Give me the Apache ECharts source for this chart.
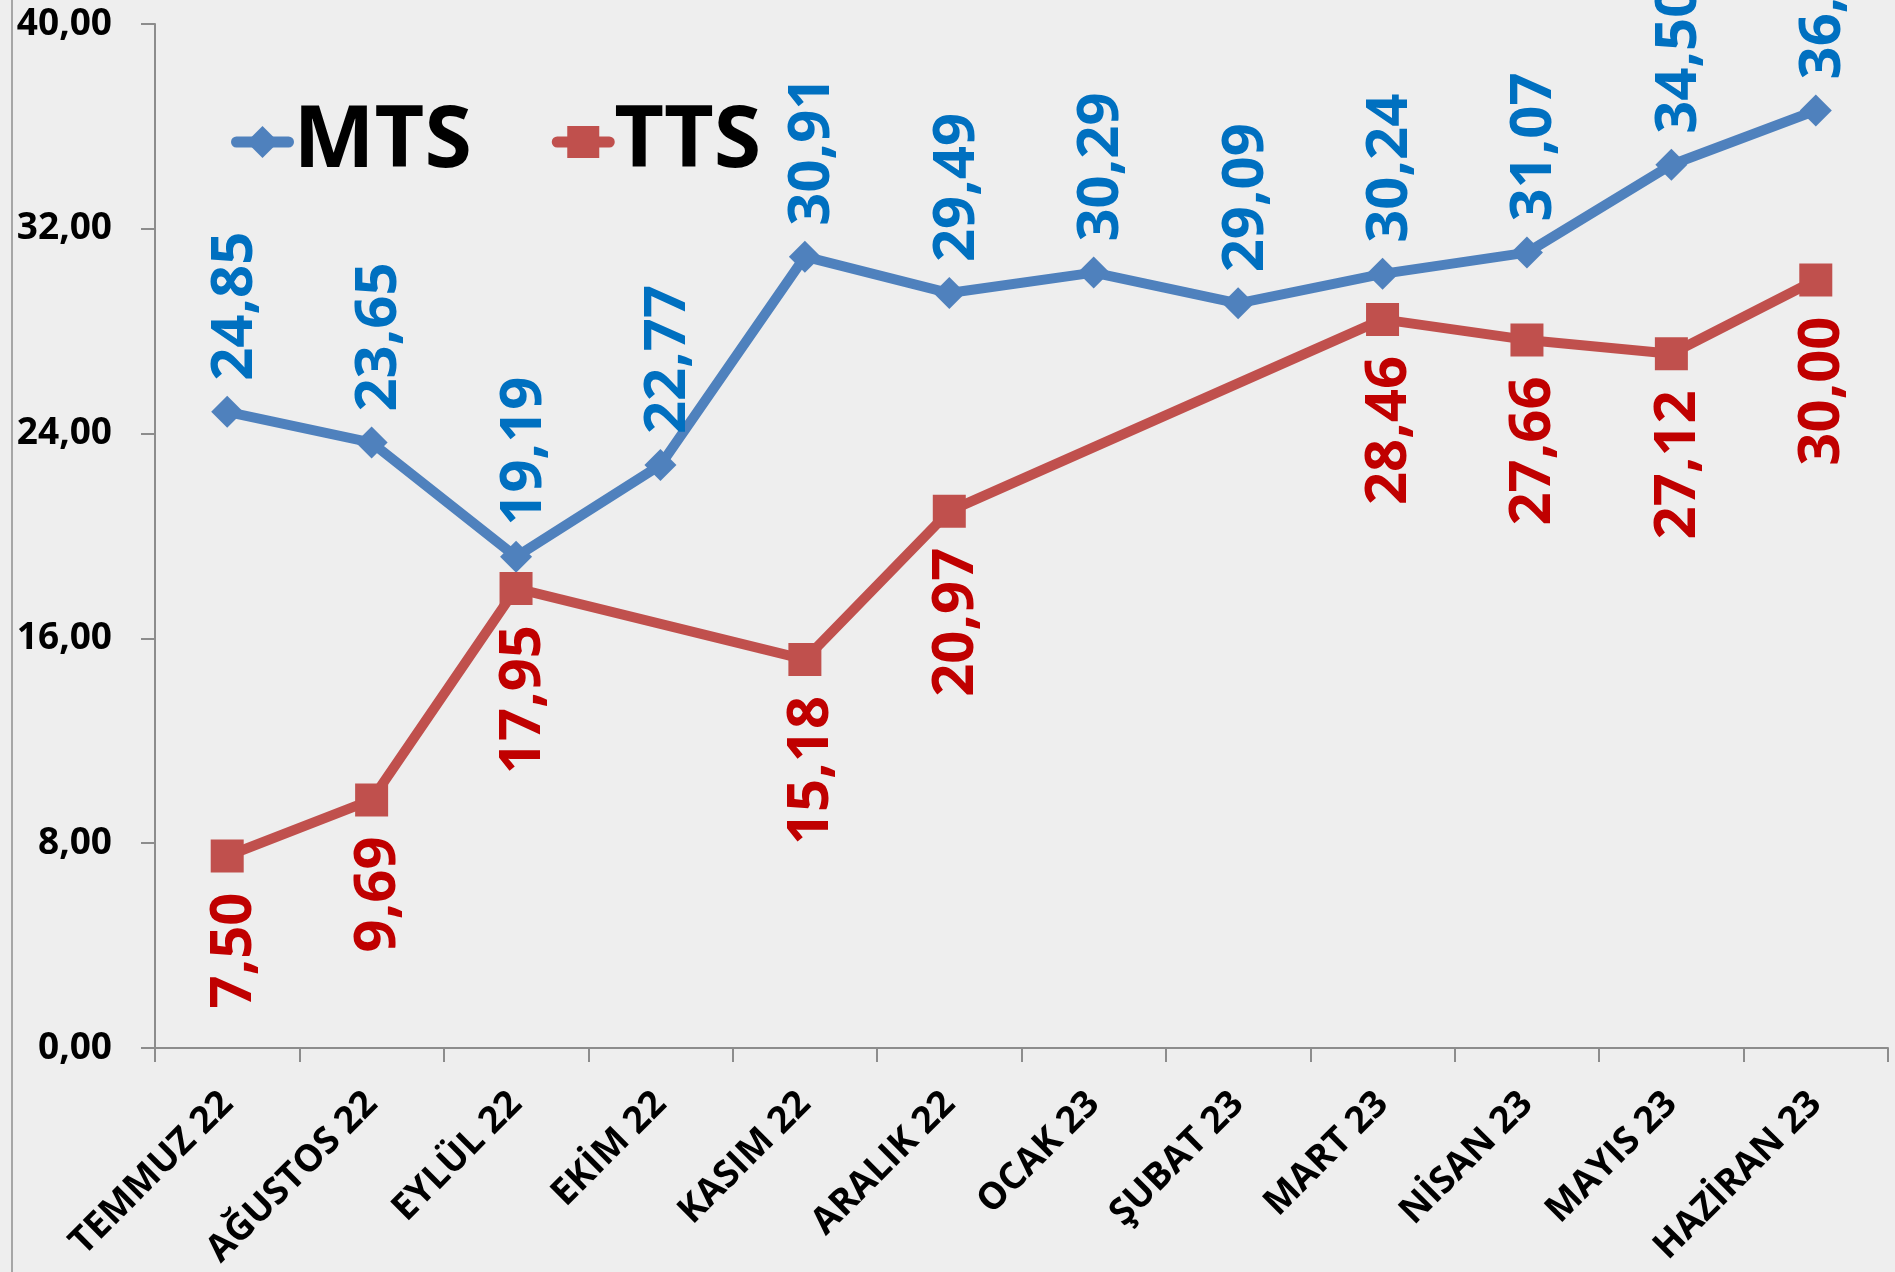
<!DOCTYPE html>
<html>
<head>
<meta charset="utf-8">
<script src="https://cdn.jsdelivr.net/npm/echarts@6/dist/echarts.min.js"></script>
<style>
  html, body { margin: 0; padding: 0; }
  #main { width: 1895px; height: 1272px; }
</style>
</head>
<body>
<div id="main"></div>
<script>
// months on the x axis
var months = ['TEMMUZ 22', 'AĞUSTOS 22', 'EYLÜL 22', 'EKİM 22', 'KASIM 22', 'ARALIK 22',
  'OCAK 23', 'ŞUBAT 23', 'MART 23', 'NİSAN 23', 'MAYIS 23', 'HAZİRAN 23'];
var mtsValues = [24.85, 23.65, 19.19, 22.77, 30.91, 29.49, 30.29, 29.09, 30.24, 31.07, 34.50, 36.62];
// no TTS figure for Ekim, Ocak, Subat
var ttsValues = [7.50, 9.69, 17.95, null, 15.18, 20.97, null, null, 28.46, 27.66, 27.12, 30.00];
var yTicks = [0, 8, 16, 24, 32, 40];

var font = 'Open Sans';
function comma(v) { return Number(v).toFixed(2).replace('.', ','); }

var chart = echarts.init(document.getElementById('main'));
chart.setOption({
  backgroundColor: '#eeeeee',
  animation: false,
  grid: { left: 155, right: 7, top: 24, bottom: 224 },
  legend: {
    left: 226, top: 94,
    itemWidth: 52, itemHeight: 40, itemGap: 80,
    selectedMode: false,
    lineStyle: { width: 11, cap: 'round' },
    textStyle: { fontFamily: font, fontWeight: 'bold', fontSize: 86, color: '#000' },
    data: ['MTS', 'TTS']
  },
  xAxis: {
    type: 'category',
    data: months,
    axisLine: { lineStyle: { color: '#8c8c8c', width: 2 } },
    axisTick: { show: true, length: 14, lineStyle: { color: '#8c8c8c', width: 2 } },
    axisLabel: {
      rotate: 45, margin: 50, interval: 0,
      fontFamily: font, fontWeight: 'bold', fontSize: 37, color: '#000'
    }
  },
  yAxis: {
    type: 'value',
    min: yTicks[0], max: yTicks[yTicks.length - 1], interval: yTicks[1] - yTicks[0],
    splitLine: { show: false },
    axisLine: { show: true, lineStyle: { color: '#8c8c8c', width: 2 } },
    axisTick: { show: true, length: 14, lineStyle: { color: '#8c8c8c', width: 2 } },
    axisLabel: {
      margin: 43, formatter: comma,
      fontFamily: font, fontWeight: 'bold', fontSize: 37, color: '#000'
    }
  },
  graphic: [{
    type: 'line', silent: true,
    shape: { x1: 12, y1: 0, x2: 12, y2: 1272 },
    style: { stroke: '#a6a6a6', lineWidth: 2 }
  }],
  series: [{
    name: 'MTS',
    type: 'line',
    data: mtsValues,
    symbol: 'diamond', symbolSize: 32,
    lineStyle: { color: '#4f81bd', width: 10 },
    itemStyle: { color: '#4f81bd' },
    label: {
      show: true, position: 'top', distance: 15, rotate: 90,
      align: 'left', verticalAlign: 'middle', offset: [0, 8],
      formatter: function (p) { return comma(p.value); },
      fontFamily: font, fontWeight: 'bold', fontSize: 58, color: '#0070c0'
    }
  }, {
    name: 'TTS',
    type: 'line',
    data: ttsValues,
    connectNulls: true,
    symbol: 'rect', symbolSize: 33,
    lineStyle: { color: '#c0504d', width: 10 },
    itemStyle: { color: '#c0504d' },
    label: {
      show: true, position: 'bottom', distance: 20, rotate: 90,
      align: 'right', verticalAlign: 'middle', offset: [0, 7],
      formatter: function (p) { return comma(p.value); },
      fontFamily: font, fontWeight: 'bold', fontSize: 58, color: '#c00000'
    }
  }]
});
</script>
</body>
</html>
